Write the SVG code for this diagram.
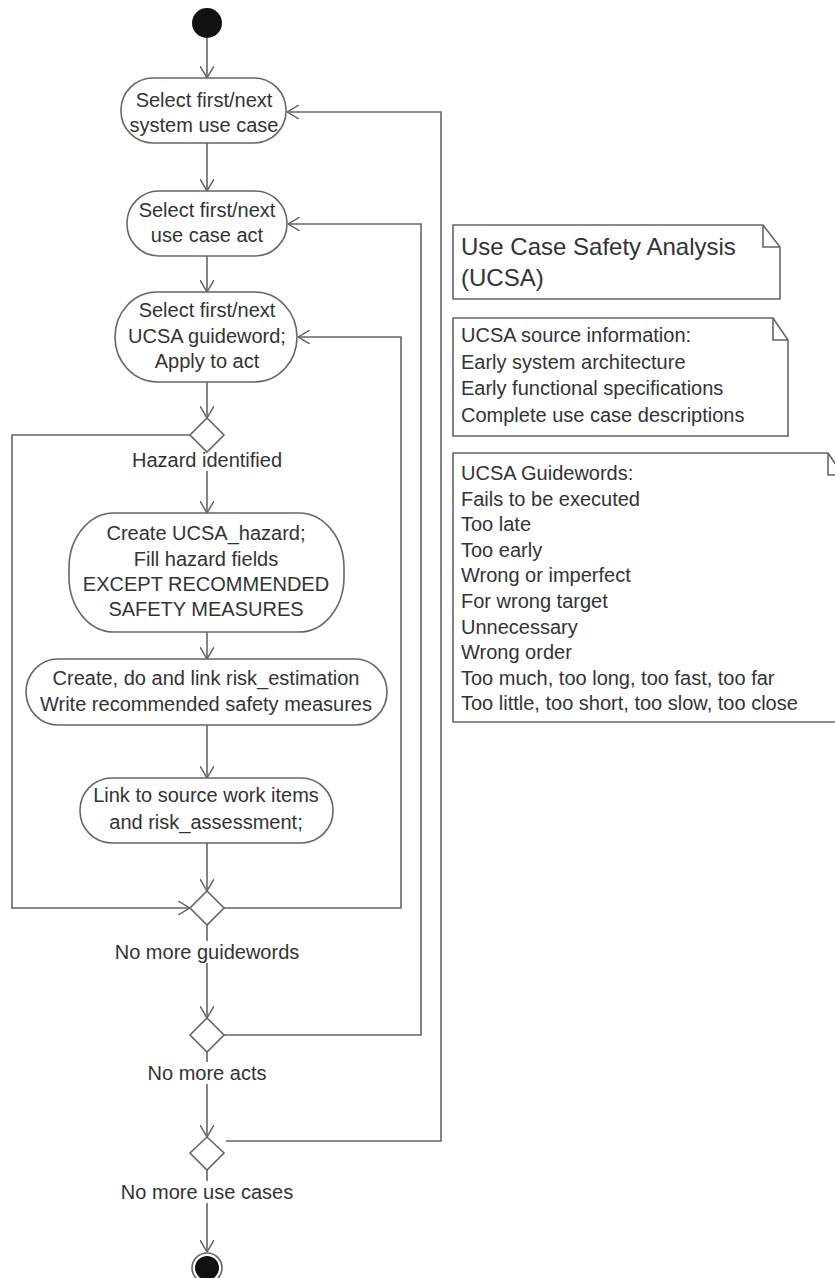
<svg xmlns="http://www.w3.org/2000/svg" width="835" height="1278" viewBox="0 0 835 1278">
<defs>
<style>
.n{fill:#fff;stroke:#666;stroke-width:1.6}
.t{font-family:"Liberation Sans",Arial,sans-serif;font-size:20px;fill:#333;text-anchor:middle}
.tl{font-family:"Liberation Sans",Arial,sans-serif;font-size:20px;fill:#333}
.c{fill:none;stroke:#666;stroke-width:1.6}
.lb{fill:#fff;stroke:none}
</style>
<marker id="arr" viewBox="0 0 12 14" refX="12" refY="7" markerWidth="12" markerHeight="14" markerUnits="userSpaceOnUse" orient="auto">
<path d="M0,0 L12,7 L0,14" fill="none" stroke="#666" stroke-width="1.5"/>
</marker>
</defs>
<rect width="835" height="1278" fill="#fff"/>

<g id="connectors">
<line class="c" x1="207" y1="38" x2="207" y2="78" marker-end="url(#arr)"/>
<line class="c" x1="207" y1="143" x2="207" y2="191" marker-end="url(#arr)"/>
<line class="c" x1="207" y1="256" x2="207" y2="292" marker-end="url(#arr)"/>
<line class="c" x1="207" y1="382" x2="207" y2="418" marker-end="url(#arr)"/>
<line class="c" x1="207" y1="451" x2="207" y2="513" marker-end="url(#arr)"/>
<line class="c" x1="207" y1="632" x2="207" y2="659" marker-end="url(#arr)"/>
<line class="c" x1="207" y1="725" x2="207" y2="778" marker-end="url(#arr)"/>
<line class="c" x1="207" y1="843" x2="207" y2="891" marker-end="url(#arr)"/>
<line class="c" x1="207" y1="925" x2="207" y2="1018" marker-end="url(#arr)"/>
<line class="c" x1="207" y1="1052" x2="207" y2="1137" marker-end="url(#arr)"/>
<line class="c" x1="207" y1="1170" x2="207" y2="1252" marker-end="url(#arr)"/>
<polyline class="c" points="190,435 12,435 12,908 190,908" marker-end="url(#arr)"/>
<polyline class="c" points="224,908 401,908 401,337 298,337" marker-end="url(#arr)"/>
<polyline class="c" points="224,1035 421,1035 421,224 288,224" marker-end="url(#arr)"/>
<polyline class="c" points="226,1141 441,1141 441,112 287,112" marker-end="url(#arr)"/>
<rect class="lb" x="128" y="449" width="158" height="22"/>
<text class="t" x="207" y="467">Hazard identified</text>
<rect class="lb" x="110" y="941" width="194" height="22"/>
<text class="t" x="207" y="959">No more guidewords</text>
<rect class="lb" x="145" y="1062" width="124" height="22"/>
<text class="t" x="207" y="1080">No more acts</text>
<rect class="lb" x="118" y="1181" width="178" height="22"/>
<text class="t" x="207" y="1199">No more use cases</text>
</g>

<g id="start"><circle cx="207" cy="23" r="15" fill="#111"/></g>

<g id="n1">
<rect class="n" x="121" y="78" width="165" height="65" rx="32" ry="32"/>
<text class="t" x="204" y="107">Select first/next</text>
<text class="t" x="204" y="132">system use case</text>
</g>

<g id="n2">
<rect class="n" x="127" y="191" width="160" height="65" rx="32" ry="32"/>
<text class="t" x="207" y="217">Select first/next</text>
<text class="t" x="207" y="242">use case act</text>
</g>

<g id="n3">
<rect class="n" x="115" y="292" width="182" height="90" rx="42" ry="45"/>
<text class="t" x="207" y="317">Select first/next</text>
<text class="t" x="207" y="343">UCSA guideword;</text>
<text class="t" x="207" y="368">Apply to act</text>
</g>

<g id="d1"><polygon class="n" points="207,418 224,435 207,452 190,435"/></g>

<g id="n4">
<rect class="n" x="69" y="513" width="275" height="119" rx="45" ry="55"/>
<text class="t" x="206" y="540">Create UCSA_hazard;</text>
<text class="t" x="206" y="566">Fill hazard fields</text>
<text class="t" x="206" y="591">EXCEPT RECOMMENDED</text>
<text class="t" x="206" y="616">SAFETY MEASURES</text>
</g>

<g id="n5">
<rect class="n" x="26" y="659" width="361" height="66" rx="32" ry="33"/>
<text class="t" x="206" y="685">Create, do and link risk_estimation</text>
<text class="t" x="206" y="711">Write recommended safety measures</text>
</g>

<g id="n6">
<rect class="n" x="80" y="778" width="253" height="65" rx="32" ry="32"/>
<text class="t" x="206" y="802">Link to source work items</text>
<text class="t" x="206" y="829">and risk_assessment;</text>
</g>

<g id="d2"><polygon class="n" points="207,891 224,908 207,925 190,908"/></g>
<g id="d3"><polygon class="n" points="207,1018 224,1035 207,1052 190,1035"/></g>
<g id="d4"><polygon class="n" points="207,1137 224,1153 207,1170 190,1153"/></g>

<g id="end">
<circle cx="207" cy="1268" r="15" fill="#fff" stroke="#666" stroke-width="1.6"/>
<circle cx="207" cy="1268" r="12" fill="#111"/>
</g>

<g id="note1">
<path class="n" d="M453,225 H763 L780,247 V299 H453 Z"/>
<path class="c" d="M763,225 V247 H780"/>
<text class="tl" x="461" y="255" style="font-size:24px">Use Case Safety Analysis</text>
<text class="tl" x="461" y="286" style="font-size:24px">(UCSA)</text>
</g>

<g id="note2">
<path class="n" d="M453,318 H773 L788,340 V436 H453 Z"/>
<path class="c" d="M773,318 V340 H788"/>
<text class="tl" x="461" y="342">UCSA source information:</text>
<text class="tl" x="461" y="369">Early system architecture</text>
<text class="tl" x="461" y="395">Early functional specifications</text>
<text class="tl" x="461" y="422">Complete use case descriptions</text>
</g>

<g id="note3">
<path class="n" d="M453,453 H828 L843,475 V722 H453 Z"/>
<path class="c" d="M828,453 V475 H843"/>
<text class="tl" x="461" y="480">UCSA Guidewords:</text>
<text class="tl" x="461" y="505.5">Fails to be executed</text>
<text class="tl" x="461" y="531">Too late</text>
<text class="tl" x="461" y="556.5">Too early</text>
<text class="tl" x="461" y="582">Wrong or imperfect</text>
<text class="tl" x="461" y="608">For wrong target</text>
<text class="tl" x="461" y="633.5">Unnecessary</text>
<text class="tl" x="461" y="659">Wrong order</text>
<text class="tl" x="461" y="684.5">Too much, too long, too fast, too far</text>
<text class="tl" x="461" y="710">Too little, too short, too slow, too close</text>
</g>
</svg>
